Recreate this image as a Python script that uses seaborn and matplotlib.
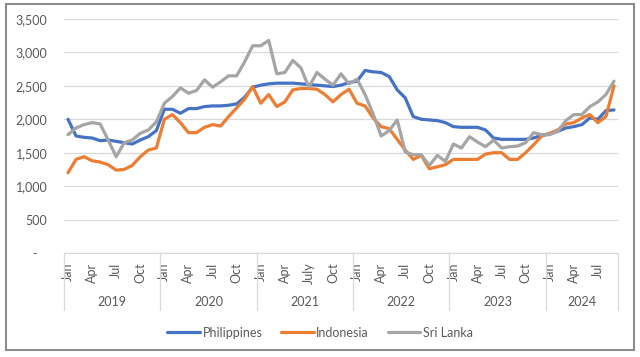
import matplotlib
matplotlib.use("Agg")
import matplotlib.pyplot as plt
import matplotlib.transforms as mtransforms
from matplotlib.patches import Rectangle
import seaborn as sns
import numpy as np
import pandas as pd

# Monthly values, Jan 2019 - Sep 2024
years = ["2019", "2020", "2021", "2022", "2023", "2024"]
months_per_year = [12, 12, 12, 12, 12, 9]
tick_labels = (["Jan", "Apr", "Jul", "Oct"] * 2 + ["Jan", "Apr", "July", "Oct"]
               + ["Jan", "Apr", "Jul", "Oct"] * 2 + ["Jan", "Apr", "Jul"])

philippines = [2000, 1750, 1730, 1720, 1680, 1690, 1670, 1650, 1630, 1690, 1740, 1830,
               2150, 2150, 2090, 2160, 2160, 2190, 2200, 2200, 2210, 2230, 2330, 2480,
               2510, 2530, 2540, 2540, 2540, 2530, 2520, 2510, 2500, 2490, 2510, 2550,
               2570, 2730, 2710, 2700, 2640, 2440, 2320, 2040, 2000, 1990, 1980, 1950,
               1890, 1880, 1880, 1880, 1840, 1720, 1700, 1700, 1700, 1700, 1720, 1760,
               1780, 1820, 1870, 1890, 1920, 2020, 2000, 2130, 2140]
indonesia = [1200, 1400, 1440, 1380, 1360, 1320, 1240, 1250, 1310, 1440, 1540, 1570,
             2000, 2070, 1950, 1800, 1800, 1880, 1920, 1900, 2040, 2170, 2300, 2490,
             2240, 2370, 2190, 2260, 2440, 2460, 2460, 2450, 2370, 2260, 2370, 2450,
             2240, 2200, 2020, 1890, 1860, 1700, 1540, 1400, 1460, 1260, 1290, 1320,
             1400, 1400, 1400, 1400, 1480, 1500, 1500, 1400, 1400, 1500, 1620, 1750,
             1790, 1840, 1930, 1950, 2020, 2070, 1950, 2040, 2500]
sri_lanka = [1770, 1870, 1920, 1950, 1930, 1690, 1440, 1650, 1690, 1790, 1840, 1960,
             2240, 2340, 2470, 2390, 2430, 2590, 2480, 2560, 2650, 2650, 2860, 3100,
             3100, 3180, 2680, 2700, 2880, 2770, 2480, 2700, 2600, 2510, 2680, 2530,
             2600, 2370, 2080, 1750, 1830, 1990, 1510, 1470, 1470, 1310, 1460, 1370,
             1630, 1570, 1740, 1660, 1590, 1690, 1570, 1590, 1600, 1650, 1800, 1770,
             1770, 1820, 1980, 2070, 2070, 2190, 2260, 2370, 2570]

countries = ["Philippines", "Indonesia", "Sri Lanka"]
colors = ["#4472C4", "#ED7D31", "#A5A5A5"]
n = len(philippines)

df = pd.DataFrame({
    "idx": np.tile(np.arange(n), 3),
    "value": philippines + indonesia + sri_lanka,
    "country": np.repeat(countries, n),
})

sns.set_theme(style="white")
plt.rcParams["font.family"] = ["Lato", "DejaVu Sans"]
txt = "#595959"
grid = "#d9d9d9"
fs = 9

fig = plt.figure(figsize=(6.4, 3.57), dpi=100)
ax = fig.add_axes([64 / 640, 1 - 253 / 357, 554 / 640, 234 / 357])

sns.lineplot(data=df, x="idx", y="value", hue="country", palette=colors,
             linewidth=2.3, ax=ax)

ax.set_xlim(-0.5, n - 0.5)
ax.set_ylim(0, 3500)
ax.set_yticks(range(0, 3501, 500))
ax.set_yticklabels(["-   "] + [f"{v:,}" for v in range(500, 3501, 500)])
ax.yaxis.grid(True, color=grid, lw=0.9)
ax.set_xlabel("")
ax.set_ylabel("")
for s in ["top", "right", "left"]:
    ax.spines[s].set_visible(False)
ax.spines["bottom"].set_color(grid)
ax.spines["bottom"].set_linewidth(0.9)

ax.set_xticks(np.arange(0, n, 3))
ax.set_xticklabels(tick_labels, rotation=90)
ax.tick_params(axis="x", length=0, pad=7, labelsize=fs, labelcolor=txt)
ax.tick_params(axis="y", length=0, pad=12, labelsize=fs, labelcolor=txt)

# year groups and separators
trans = mtransforms.blended_transform_factory(ax.transData, ax.transAxes)
edges = np.concatenate([[0], np.cumsum(months_per_year)]) - 0.5
for e in edges:
    ax.plot([e, e], [0, -0.245], color=grid, lw=0.9, transform=trans, clip_on=False)
for i, y in enumerate(years):
    ax.text((edges[i] + edges[i + 1]) / 2, -0.21, y, transform=trans,
            ha="center", va="center", fontsize=fs, color=txt)

sns.move_legend(ax, "center", bbox_to_anchor=(0.462, -0.34), ncol=3, title=None,
                frameon=False, fontsize=fs, handlelength=2.6, handletextpad=0.2,
                columnspacing=1.5, labelcolor=txt)

fig.patches.append(Rectangle((6 / 640, 7 / 357), 628 / 640, 346 / 357,
                             transform=fig.transFigure, fill=False,
                             ec="#8c8c8c", lw=1.5))

fig.savefig("out.png", dpi=100)
